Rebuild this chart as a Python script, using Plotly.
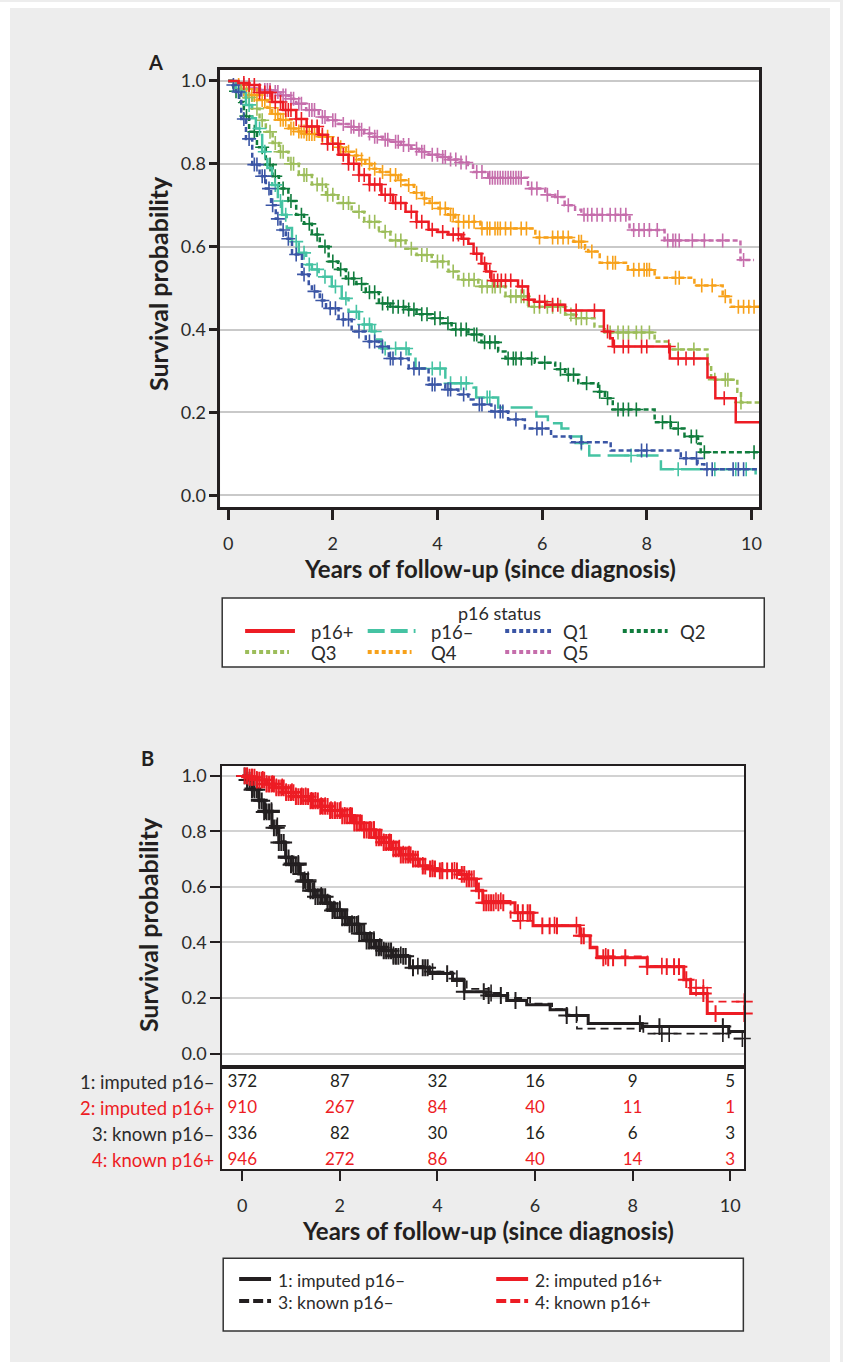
import plotly.graph_objects as go

W, H = 843, 1362

# ---------------- Panel A data (Kaplan-Meier step points and censor times) ----------------
q5_t = [0, 0.15, 0.4, 0.6, 0.84, 1.0, 1.16, 1.3, 1.49, 1.73, 1.9, 2.11, 2.3, 2.44, 2.6, 2.74, 2.95, 3.12, 3.3, 3.5, 3.65, 3.83, 4.02, 4.21, 4.4, 4.59, 4.68, 4.97, 5.73, 6.06, 6.25, 6.43, 6.63, 6.75, 7.67, 8.34, 9.79, 10.05]
q5_s = [1.0, 0.99, 0.982, 0.978, 0.973, 0.965, 0.957, 0.945, 0.93, 0.913, 0.905, 0.896, 0.889, 0.882, 0.873, 0.865, 0.858, 0.853, 0.845, 0.836, 0.829, 0.822, 0.816, 0.81, 0.803, 0.797, 0.78, 0.766, 0.74, 0.725, 0.72, 0.70, 0.689, 0.677, 0.64, 0.615, 0.568, 0.568]
q5_c = [0.3, 0.4, 0.5, 0.6, 0.7, 0.75, 0.8, 0.9, 0.95, 1.05, 1.1, 1.2, 1.25, 1.35, 1.4, 1.55, 1.6, 1.65, 1.8, 1.85, 2.0, 2.05, 2.2, 2.35, 2.4, 2.5, 2.55, 2.7, 2.8, 2.85, 3.0, 3.05, 3.2, 3.25, 3.35, 3.45, 3.6, 3.7, 3.75, 3.9, 4.0, 4.1, 4.15, 4.25, 4.35, 4.45, 4.55, 4.75, 4.85, 5.0, 5.05, 5.1, 5.15, 5.2, 5.25, 5.3, 5.35, 5.4, 5.45, 5.5, 5.55, 5.6, 5.8, 5.9, 6.1, 6.3, 6.5, 6.8, 6.87, 6.95, 7.05, 7.15, 7.3, 7.4, 7.5, 7.6, 7.75, 7.85, 7.95, 8.05, 8.2, 8.4, 8.5, 8.55, 8.62, 8.87, 9.1, 9.45, 9.85]

q4_t = [0, 0.1, 0.25, 0.4, 0.59, 0.75, 0.84, 0.97, 1.16, 1.3, 1.49, 1.73, 1.98, 2.1, 2.25, 2.4, 2.5, 2.62, 2.74, 2.9, 3.07, 3.25, 3.39, 3.55, 3.7, 3.85, 4.02, 4.2, 4.34, 4.82, 5.87, 6.6, 6.82, 6.88, 7.1, 7.64, 8.15, 8.91, 9.45, 9.6, 10.15]
q4_s = [1.0, 0.99, 0.98, 0.966, 0.954, 0.935, 0.92, 0.906, 0.885, 0.878, 0.872, 0.865, 0.848, 0.84, 0.829, 0.82, 0.81, 0.8, 0.788, 0.78, 0.773, 0.76, 0.749, 0.73, 0.716, 0.705, 0.692, 0.677, 0.66, 0.644, 0.622, 0.612, 0.595, 0.588, 0.561, 0.544, 0.525, 0.506, 0.48, 0.455, 0.455]
q4_c = [0.2, 0.3, 0.35, 0.45, 0.5, 0.55, 0.65, 0.7, 0.8, 0.9, 0.95, 1.0, 1.05, 1.1, 1.2, 1.25, 1.35, 1.4, 1.45, 1.5, 1.55, 1.6, 1.65, 1.8, 1.9, 2.0, 2.15, 2.3, 2.45, 2.55, 2.7, 2.8, 2.95, 3.1, 3.2, 3.3, 3.45, 3.6, 3.75, 3.9, 4.05, 4.15, 4.25, 4.3, 4.4, 4.5, 4.6, 4.7, 4.85, 4.95, 5.0, 5.1, 5.15, 5.2, 5.3, 5.4, 5.6, 5.7, 5.95, 6.2, 6.3, 6.4, 6.5, 6.7, 6.75, 6.95, 7.25, 7.35, 7.4, 7.75, 7.85, 7.95, 8.0, 8.05, 8.55, 8.62, 9.05, 9.25, 9.5, 9.75, 9.85, 9.95, 10.05]

q3_t = [0, 0.15, 0.3, 0.46, 0.6, 0.72, 0.85, 0.97, 1.15, 1.35, 1.6, 1.87, 2.1, 2.36, 2.6, 2.88, 3.1, 3.39, 3.6, 3.89, 4.21, 4.4, 4.78, 5.3, 5.73, 6.44, 6.6, 7.0, 7.2, 8.15, 8.44, 9.16, 9.23, 9.73, 9.8, 10.15]
q3_s = [1.0, 0.98, 0.96, 0.933, 0.905, 0.877, 0.85, 0.829, 0.8, 0.773, 0.75, 0.725, 0.705, 0.684, 0.66, 0.636, 0.615, 0.595, 0.58, 0.564, 0.54, 0.52, 0.504, 0.48, 0.455, 0.436, 0.427, 0.407, 0.393, 0.371, 0.352, 0.316, 0.279, 0.25, 0.224, 0.224]
q3_c = [0.25, 0.4, 0.55, 0.65, 0.8, 0.9, 1.0, 1.05, 1.2, 1.25, 1.45, 1.5, 1.7, 1.8, 1.9, 2.0, 2.2, 2.3, 2.5, 2.7, 2.8, 3.0, 3.2, 3.3, 3.5, 3.7, 3.8, 4.0, 4.1, 4.3, 4.5, 4.6, 4.7, 4.85, 4.95, 5.05, 5.1, 5.2, 5.4, 5.5, 5.6, 5.65, 5.85, 5.95, 6.1, 6.2, 6.35, 6.55, 6.65, 6.75, 6.85, 7.3, 7.45, 7.55, 7.65, 7.8, 7.9, 8.05, 8.6, 8.9, 9.3, 9.5, 9.55, 9.8]

q2_t = [0, 0.1, 0.21, 0.3, 0.4, 0.55, 0.72, 0.85, 0.97, 1.15, 1.3, 1.45, 1.6, 1.75, 1.92, 2.1, 2.25, 2.45, 2.63, 2.88, 3.1, 3.39, 3.6, 3.89, 4.1, 4.27, 4.59, 4.84, 5.16, 5.3, 5.86, 6.25, 6.44, 6.69, 7.07, 7.2, 7.35, 8.15, 8.46, 8.72, 8.98, 9.03, 10.15]
q2_s = [1.0, 0.975, 0.949, 0.915, 0.877, 0.84, 0.798, 0.77, 0.74, 0.71, 0.677, 0.655, 0.629, 0.6, 0.564, 0.545, 0.523, 0.51, 0.49, 0.463, 0.455, 0.448, 0.437, 0.427, 0.415, 0.4, 0.388, 0.369, 0.347, 0.33, 0.32, 0.304, 0.291, 0.27, 0.25, 0.234, 0.207, 0.176, 0.161, 0.142, 0.125, 0.104, 0.104]
q2_c = [0.15, 0.35, 0.5, 0.65, 0.8, 0.9, 1.05, 1.2, 1.4, 1.55, 1.7, 1.85, 2.0, 2.15, 2.3, 2.4, 2.55, 2.7, 2.8, 2.95, 3.05, 3.15, 3.25, 3.35, 3.45, 3.55, 3.7, 3.8, 3.95, 4.05, 4.2, 4.35, 4.45, 4.55, 4.7, 4.75, 4.9, 5.0, 5.1, 5.35, 5.45, 5.5, 5.6, 5.8, 6.05, 6.35, 6.5, 6.6, 6.85, 7.1, 7.25, 7.45, 7.55, 7.65, 7.8, 8.3, 8.45, 8.6, 8.85, 8.95, 9.1, 10.05]

q1_t = [0, 0.08, 0.15, 0.25, 0.34, 0.46, 0.6, 0.72, 0.82, 0.91, 1.0, 1.1, 1.22, 1.41, 1.54, 1.6, 1.75, 1.87, 2.11, 2.36, 2.63, 2.88, 3.07, 3.45, 3.83, 4.15, 4.4, 4.59, 4.69, 5.03, 5.35, 5.67, 6.17, 6.55, 7.31, 8.65, 8.97, 9.1, 10.15]
q1_s = [1.0, 0.99, 0.973, 0.908, 0.86, 0.798, 0.77, 0.74, 0.7, 0.667, 0.64, 0.619, 0.581, 0.533, 0.51, 0.492, 0.47, 0.451, 0.424, 0.395, 0.371, 0.359, 0.33, 0.306, 0.267, 0.255, 0.243, 0.231, 0.219, 0.202, 0.183, 0.161, 0.142, 0.128, 0.108, 0.089, 0.075, 0.063, 0.063]
q1_c = [0.1, 0.2, 0.3, 0.4, 0.5, 0.55, 0.65, 0.7, 0.78, 0.85, 0.95, 1.05, 1.15, 1.3, 1.45, 1.65, 1.8, 1.95, 2.05, 2.2, 2.3, 2.5, 2.7, 2.8, 2.95, 3.1, 3.15, 3.3, 3.55, 3.65, 3.9, 3.95, 4.2, 4.25, 4.5, 4.8, 4.85, 5.1, 5.2, 5.25, 5.5, 5.9, 6.0, 6.75, 7.9, 8.0, 8.75, 8.95, 9.15, 9.25, 9.65, 9.75, 9.85]

p16n_t = [0, 0.15, 0.34, 0.45, 0.53, 0.65, 0.75, 0.84, 0.95, 1.03, 1.12, 1.22, 1.35, 1.49, 1.6, 1.73, 1.98, 2.17, 2.3, 2.5, 2.74, 2.82, 2.93, 3.45, 3.58, 4.15, 4.69, 4.74, 5.16, 5.89, 6.11, 6.37, 6.53, 6.75, 6.9, 8.27, 10.08, 10.15]
p16n_s = [1.0, 0.975, 0.942, 0.91, 0.885, 0.829, 0.79, 0.749, 0.71, 0.677, 0.645, 0.612, 0.585, 0.557, 0.545, 0.527, 0.504, 0.475, 0.443, 0.412, 0.395, 0.376, 0.354, 0.34, 0.306, 0.27, 0.26, 0.236, 0.212, 0.19, 0.174, 0.161, 0.142, 0.125, 0.096, 0.063, 0.046, 0.046]
p16n_c = [0.2, 0.4, 0.6, 0.7, 0.9, 1.0, 1.1, 1.3, 1.45, 1.55, 1.7, 1.85, 2.05, 2.25, 2.45, 2.6, 2.7, 2.8, 3.0, 3.2, 3.4, 3.9, 4.05, 4.25, 4.45, 4.55, 4.95, 5.0, 6.75, 7.7, 8.6, 9.3, 9.7, 9.9]

p16p_t = [0, 0.2, 0.4, 0.6, 0.84, 1.05, 1.3, 1.5, 1.73, 1.9, 2.11, 2.3, 2.5, 2.7, 2.93, 3.15, 3.39, 3.6, 3.83, 4.0, 4.2, 4.46, 4.59, 4.69, 4.84, 4.93, 5.03, 5.54, 5.73, 5.85, 6.06, 6.44, 7.18, 7.3, 7.35, 8.44, 9.16, 9.31, 9.7, 10.15]
p16p_s = [1.0, 0.995, 0.99, 0.972, 0.949, 0.93, 0.908, 0.89, 0.87, 0.848, 0.822, 0.8, 0.773, 0.75, 0.725, 0.705, 0.684, 0.66, 0.641, 0.635, 0.629, 0.619, 0.607, 0.583, 0.559, 0.54, 0.518, 0.504, 0.472, 0.467, 0.46, 0.446, 0.395, 0.379, 0.359, 0.33, 0.284, 0.234, 0.176, 0.176]
p16p_c = [0.3, 0.4, 0.5, 0.6, 0.7, 0.8, 0.9, 1.0, 1.1, 1.15, 1.2, 1.3, 1.4, 1.5, 1.6, 1.7, 1.8, 1.9, 2.0, 2.1, 2.2, 2.3, 2.4, 2.5, 2.6, 2.7, 2.8, 2.9, 3.0, 3.1, 3.2, 3.3, 3.5, 3.6, 3.7, 3.9, 4.1, 4.3, 4.4, 4.5, 4.75, 4.9, 5.0, 5.08, 5.15, 5.22, 5.3, 5.4, 5.62, 5.75, 5.95, 6.05, 6.2, 6.3, 6.65, 7.0, 7.25, 7.38, 7.55, 7.65, 7.9, 8.0, 8.42, 8.6, 8.75, 8.9, 9.48]

# ---------------- Panel B data ----------------
bk_imp_t = [0, 0.1, 0.2, 0.34, 0.45, 0.61, 0.75, 0.89, 1.0, 1.16, 1.25, 1.37, 1.5, 1.71, 1.85, 2.05, 2.2, 2.4, 2.55, 2.74, 2.9, 3.08, 3.43, 3.84, 4.31, 4.55, 5.0, 5.42, 5.83, 6.31, 6.65, 7.09, 8.2, 9.97, 10.29]
bk_imp_s = [1.0, 0.985, 0.95, 0.91, 0.87, 0.813, 0.76, 0.705, 0.68, 0.647, 0.62, 0.586, 0.565, 0.54, 0.515, 0.489, 0.465, 0.432, 0.405, 0.381, 0.37, 0.35, 0.309, 0.288, 0.263, 0.223, 0.209, 0.191, 0.176, 0.158, 0.137, 0.108, 0.097, 0.079, 0.079]
bk_imp_c = [0.05, 0.1, 0.15, 0.2, 0.25, 0.3, 0.35, 0.4, 0.45, 0.5, 0.55, 0.6, 0.65, 0.7, 0.75, 0.8, 0.85, 0.9, 0.95, 1.0, 1.05, 1.1, 1.15, 1.2, 1.25, 1.3, 1.35, 1.4, 1.45, 1.5, 1.55, 1.6, 1.65, 1.7, 1.75, 1.8, 1.85, 1.9, 1.95, 2.0, 2.05, 2.1, 2.15, 2.2, 2.25, 2.3, 2.35, 2.4, 2.45, 2.5, 2.55, 2.6, 2.65, 2.7, 2.75, 2.8, 2.85, 2.9, 2.95, 3.0, 3.05, 3.1, 3.15, 3.2, 3.3, 3.35, 3.5, 3.7, 3.75, 3.8, 4.2, 4.55, 4.95, 5.05, 5.3, 5.6, 6.65, 8.15, 8.55, 9.85]

bk_kn_t = [0, 0.1, 0.2, 0.34, 0.45, 0.61, 0.75, 0.89, 1.0, 1.16, 1.25, 1.37, 1.5, 1.71, 1.85, 2.05, 2.2, 2.4, 2.55, 2.74, 2.9, 3.08, 3.43, 3.84, 4.31, 4.6, 5.05, 5.45, 5.9, 6.35, 6.65, 6.86, 8.22, 9.97, 10.29]
bk_kn_s = [1.0, 0.985, 0.955, 0.915, 0.875, 0.82, 0.765, 0.71, 0.685, 0.65, 0.625, 0.59, 0.57, 0.545, 0.52, 0.49, 0.468, 0.435, 0.41, 0.385, 0.372, 0.355, 0.315, 0.295, 0.27, 0.233, 0.218, 0.2, 0.18, 0.16, 0.14, 0.09, 0.072, 0.054, 0.054]
bk_kn_c = [0.1, 0.22, 0.35, 0.48, 0.6, 0.72, 0.9, 1.02, 1.15, 1.28, 1.35, 1.48, 1.62, 1.75, 1.88, 2.0, 2.12, 2.25, 2.38, 2.5, 2.62, 2.7, 2.82, 2.9, 3.1, 3.25, 3.6, 3.9, 4.4, 5.1, 6.85, 8.6, 8.75, 9.85, 10.25]

rd_imp_t = [0, 0.15, 0.3, 0.5, 0.68, 0.9, 1.1, 1.37, 1.6, 1.8, 2.05, 2.3, 2.5, 2.74, 2.9, 3.08, 3.25, 3.5, 3.63, 3.8, 4.0, 4.45, 4.6, 4.8, 4.93, 5.59, 5.96, 6.92, 7.13, 7.27, 8.3, 9.05, 9.19, 9.53, 10.29]
rd_imp_s = [1.0, 0.995, 0.985, 0.97, 0.957, 0.94, 0.925, 0.91, 0.89, 0.875, 0.856, 0.83, 0.805, 0.777, 0.76, 0.737, 0.715, 0.7, 0.675, 0.665, 0.658, 0.645, 0.629, 0.586, 0.543, 0.507, 0.46, 0.424, 0.381, 0.345, 0.313, 0.266, 0.216, 0.144, 0.144]
rd_imp_c = [0.05, 0.1, 0.15, 0.2, 0.25, 0.3, 0.35, 0.4, 0.45, 0.5, 0.55, 0.6, 0.65, 0.7, 0.75, 0.8, 0.85, 0.9, 0.95, 1.0, 1.05, 1.1, 1.15, 1.2, 1.25, 1.3, 1.35, 1.4, 1.45, 1.5, 1.55, 1.6, 1.65, 1.7, 1.75, 1.8, 1.85, 1.9, 1.95, 2.0, 2.05, 2.1, 2.15, 2.2, 2.25, 2.3, 2.35, 2.4, 2.45, 2.5, 2.55, 2.6, 2.65, 2.7, 2.75, 2.8, 2.85, 2.9, 2.95, 3.0, 3.05, 3.1, 3.15, 3.2, 3.25, 3.3, 3.35, 3.4, 3.45, 3.5, 3.55, 3.6, 3.7, 3.75, 3.85, 3.9, 3.95, 4.05, 4.1, 4.2, 4.3, 4.4, 4.5, 4.55, 4.6, 4.65, 4.7, 4.85, 4.95, 5.0, 5.05, 5.1, 5.15, 5.25, 5.35, 5.65, 5.75, 5.85, 5.9, 6.15, 6.3, 6.45, 6.95, 7.0, 7.4, 7.5, 7.6, 7.85, 8.3, 8.7, 8.85, 8.95, 9.1, 9.45, 9.7, 10.29]

rd_kn_t = [0, 0.15, 0.3, 0.5, 0.68, 0.9, 1.1, 1.37, 1.6, 1.8, 2.05, 2.3, 2.5, 2.74, 2.9, 3.08, 3.25, 3.5, 3.63, 3.8, 4.0, 4.45, 4.6, 4.8, 4.93, 5.5, 5.96, 6.92, 7.13, 7.27, 8.3, 9.05, 9.19, 9.53, 10.29]
rd_kn_s = [1.0, 0.995, 0.987, 0.972, 0.96, 0.943, 0.928, 0.912, 0.893, 0.878, 0.858, 0.832, 0.807, 0.78, 0.762, 0.74, 0.718, 0.702, 0.678, 0.668, 0.66, 0.648, 0.63, 0.59, 0.55, 0.478, 0.462, 0.428, 0.385, 0.35, 0.315, 0.27, 0.237, 0.187, 0.187]
rd_kn_c = [0.1, 0.2, 0.3, 0.42, 0.5, 0.62, 0.7, 0.82, 0.9, 1.02, 1.1, 1.22, 1.3, 1.42, 1.5, 1.62, 1.7, 1.82, 1.9, 2.02, 2.1, 2.22, 2.3, 2.42, 2.5, 2.62, 2.7, 2.82, 2.9, 3.02, 3.1, 3.22, 3.3, 3.42, 3.5, 3.7, 3.9, 4.1, 4.35, 4.65, 4.75, 5.2, 5.3, 5.7, 6.4, 6.85, 7.45, 8.6, 9.3, 9.45, 10.29]

# Numbers at risk
risk_times = [0, 2, 4, 6, 8, 10]
risk_labels = ["1: imputed p16\u2013", "2: imputed p16+", "3: known p16\u2013", "4: known p16+"]
risk_imp_neg = [372, 87, 32, 16, 9, 5]
risk_imp_pos = [910, 267, 84, 40, 11, 1]
risk_kn_neg = [336, 82, 30, 16, 6, 3]
risk_kn_pos = [946, 272, 86, 40, 14, 3]

x_ticks = [0, 2, 4, 6, 8, 10]
y_ticks = [0.0, 0.2, 0.4, 0.6, 0.8, 1.0]
y_ticktext = ["0.0", "0.2", "0.4", "0.6", "0.8", "1.0"]

# ---------------- styling ----------------
RED = "#ed1c24"
TEAL = "#45c3a3"
BLUE = "#3a55a5"
DGREEN = "#107c3d"
LGREEN = "#9cbd5a"
ORANGE = "#f7a11a"
PINK = "#c56dab"
BLACK = "#231f20"
FONT = "Lato"
TXT = "#2b2b2b"


def px(x):
    return x / W


def py(y):
    return 1 - y / H


def step_at(T, S, t):
    v = S[0]
    for ti, si in zip(T, S):
        if ti <= t:
            v = si
        else:
            break
    return v


fig = go.Figure()


def add_km(T, S, C, color, dash, width, xa, ya, msize, mwidth):
    assert len(T) == len(S)
    fig.add_trace(go.Scatter(x=T, y=S, mode="lines", line=dict(color=color, width=width, dash=dash, shape="hv"),
                             xaxis=xa, yaxis=ya, showlegend=False, hoverinfo="skip"))
    fig.add_trace(go.Scatter(x=C, y=[step_at(T, S, c) for c in C], mode="markers",
                             marker=dict(symbol="cross-thin", size=msize, color=color,
                                         line=dict(color=color, width=mwidth)),
                             xaxis=xa, yaxis=ya, showlegend=False, hoverinfo="skip", cliponaxis=False))


QDASH = "5px,3px"
add_km(q5_t, q5_s, q5_c, PINK, QDASH, 2.5, "x", "y", 10, 1.6)
add_km(q4_t, q4_s, q4_c, ORANGE, QDASH, 2.5, "x", "y", 10, 1.6)
add_km(q3_t, q3_s, q3_c, LGREEN, QDASH, 2.5, "x", "y", 10, 1.6)
add_km(q2_t, q2_s, q2_c, DGREEN, QDASH, 2.5, "x", "y", 10, 1.6)
add_km(p16n_t, p16n_s, p16n_c, TEAL, "22px,7px", 2.5, "x", "y", 10, 1.6)
add_km(q1_t, q1_s, q1_c, BLUE, QDASH, 2.5, "x", "y", 10, 1.6)
add_km(p16p_t, p16p_s, p16p_c, RED, "solid", 2.5, "x", "y", 10, 1.6)

add_km(bk_kn_t, bk_kn_s, bk_kn_c, BLACK, "8px,5px", 1.8, "x2", "y2", 12, 1.6)
add_km(bk_imp_t, bk_imp_s, bk_imp_c, BLACK, "solid", 3, "x2", "y2", 12, 2)
add_km(rd_kn_t, rd_kn_s, rd_kn_c, RED, "8px,5px", 1.8, "x2", "y2", 12, 1.6)
add_km(rd_imp_t, rd_imp_s, rd_imp_c, RED, "solid", 3, "x2", "y2", 12, 2)

# risk table numbers
for row, (vals, col) in enumerate([(risk_imp_neg, BLACK), (risk_imp_pos, RED), (risk_kn_neg, BLACK), (risk_kn_pos, RED)], start=1):
    fig.add_trace(go.Scatter(x=risk_times, y=[row] * len(risk_times), mode="text", text=[str(v) for v in vals],
                             textposition="middle center", textfont=dict(family=FONT, size=17, color=col),
                             xaxis="x3", yaxis="y3", showlegend=False, hoverinfo="skip", cliponaxis=False))

tickfont = dict(family=FONT, size=18, color=TXT)
axis_common = dict(showline=True, linecolor=BLACK, mirror=True, zeroline=False, tickfont=tickfont, tickcolor=BLACK)

fig.update_layout(
    width=W, height=H, margin=dict(l=0, r=0, t=0, b=0),
    paper_bgcolor="#ededed", plot_bgcolor="white", showlegend=False,
    xaxis=dict(domain=[px(221), px(762)], range=[-0.152, 10.15], anchor="y", tickvals=x_ticks, ticks="outside",
               ticklen=10, tickwidth=2.5, linewidth=2.5, showgrid=False, ticklabelstandoff=8, **axis_common),
    yaxis=dict(domain=[py(506), py(68)], range=[-0.029, 1.0265], anchor="x", tickvals=y_ticks, ticktext=y_ticktext,
               ticks="outside", ticklen=8, tickwidth=2.5, linewidth=2.5, showgrid=True, gridcolor="#c9c9c9",
               gridwidth=2, **axis_common),
    xaxis2=dict(domain=[px(223), px(747)], range=[-0.41, 10.29], anchor="y2", showticklabels=False, ticks="",
                linewidth=2, showgrid=False, **axis_common),
    yaxis2=dict(domain=[py(1067), py(765)], range=[-0.05, 1.036], anchor="x2", tickvals=y_ticks, ticktext=y_ticktext,
                ticks="outside", ticklen=10, tickwidth=2, linewidth=2, showgrid=True, gridcolor="#d2d2d2",
                gridwidth=1.5, **axis_common),
    xaxis3=dict(domain=[px(223), px(747)], range=[-0.41, 10.29], anchor="y3", matches="x2", tickvals=x_ticks,
                ticks="outside", ticklen=10, tickwidth=2, linewidth=2, showgrid=False, ticklabelstandoff=9,
                **axis_common),
    yaxis3=dict(domain=[py(1169), py(1067)], range=[4.346, 0.423], anchor="x3", showticklabels=False, ticks="",
                linewidth=2, showgrid=False, **axis_common),
)

shapes = []
annotations = []
# white outer margin
for x0, y0, x1, y1 in [(0, 0, 10, H), (833, 0, W, H), (0, 0, W, 6)]:
    shapes.append(dict(type="rect", xref="paper", yref="paper", x0=px(x0), x1=px(x1), y0=py(y0), y1=py(y1),
                       fillcolor="white", line=dict(width=0), layer="below"))


def ptext(text, x, y, size=17, color=TXT, xanchor="left", bold=False, angle=0):
    annotations.append(dict(text=("<b>%s</b>" % text) if bold else text, x=px(x), y=py(y), xref="paper", yref="paper",
                            xanchor=xanchor, yanchor="middle", showarrow=False, textangle=angle,
                            font=dict(family=FONT, size=size, color=color)))


# panel labels and titles
ptext("A", 156, 60, size=20, color=BLACK, xanchor="center", bold=True)
ptext("B", 148, 757, size=20, color=BLACK, xanchor="center", bold=True)
ptext("Survival probability", 158, 282, size=25, color=BLACK, xanchor="center", bold=True, angle=-90)
ptext("Survival probability", 148, 924, size=25, color=BLACK, xanchor="center", bold=True, angle=-90)
ptext("Years of follow-up (since diagnosis)", 492, 567, size=24, color=BLACK, xanchor="center", bold=True)
ptext("Years of follow-up (since diagnosis)", 490, 1230, size=24, color=BLACK, xanchor="center", bold=True)

# risk table row labels
for i, lab in enumerate(risk_labels, start=1):
    annotations.append(dict(text=lab, x=px(217), y=i, xref="paper", yref="y3", xanchor="right", yanchor="middle",
                            showarrow=False, font=dict(family=FONT, size=18.5, color=RED if i % 2 == 0 else TXT)))


def legend_line(x0, x1, y, color, dash, width):
    shapes.append(dict(type="line", xref="paper", yref="paper", x0=px(x0), x1=px(x1), y0=py(y), y1=py(y),
                       line=dict(color=color, width=width, dash=dash), layer="above"))


# Legend A
shapes.append(dict(type="rect", xref="paper", yref="paper", x0=px(223), x1=px(767), y0=py(666), y1=py(597),
                   fillcolor="white", line=dict(color="#333333", width=1.5), layer="below"))
ptext("p16 status", 501, 612, size=18, xanchor="center")
legA = [("p16+", RED, "solid", 246, 296, 310, 630), ("p16\u2013", TEAL, "17px,6px", 369, 417, 431, 630),
        ("Q1", BLUE, "4px,3px", 507, 553, 563, 630), ("Q2", DGREEN, "4px,3px", 625, 670, 680, 630),
        ("Q3", LGREEN, "4px,3px", 246, 290, 310, 651), ("Q4", ORANGE, "4px,3px", 369, 413, 431, 651),
        ("Q5", PINK, "4px,3px", 507, 553, 563, 651)]
for name, col, dash, x0, x1, xt, y in legA:
    legend_line(x0, x1, y, col, dash, 4)
    ptext(name, xt, y + 1, size=18.5)

# Legend B
shapes.append(dict(type="rect", xref="paper", yref="paper", x0=px(224), x1=px(746), y0=py(1331), y1=py(1258),
                   fillcolor="white", line=dict(color="#333333", width=1.5), layer="below"))
legB = [(risk_labels[0], BLACK, "solid", 240, 272, 277, 1279), (risk_labels[1], RED, "solid", 498, 530, 535, 1279),
        (risk_labels[2], BLACK, "10px,4px", 240, 272, 277, 1301), (risk_labels[3], RED, "10px,4px", 498, 530, 535, 1301)]
for name, col, dash, x0, x1, xt, y in legB:
    legend_line(x0, x1, y, col, dash, 4)
    ptext(name, xt, y + 1, size=17.5)

fig.update_layout(shapes=shapes, annotations=annotations)
fig.write_html("out.html")
